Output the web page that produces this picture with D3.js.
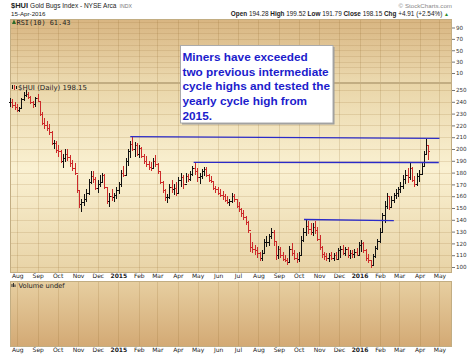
<!DOCTYPE html>
<html><head><meta charset="utf-8">
<script src="https://cdn.jsdelivr.net/npm/d3@7"></script>
<style>body{margin:0;background:#fff}svg{display:block}</style>
</head><body>
<svg id="c" width="474" height="356"></svg>
<script>
// ---- data: half-week OHLC bars [date, high, low, close] ----
const bars2014 = [
["2014-07-21",243,236,240],["2014-07-24",242,235,237],["2014-07-28",240,233,236],["2014-07-31",238,231,233],
["2014-08-04",236,231,235],["2014-08-07",243,234,242],["2014-08-11",248,241,246],["2014-08-14",250,244,247],
["2014-08-18",248,242,244],["2014-08-21",245,238,240],["2014-08-25",241,235,238],["2014-08-28",244,236,243],
["2014-09-01",247,240,241],["2014-09-04",241,228,230],["2014-09-08",231,220,222],["2014-09-11",226,217,220],
["2014-09-15",224,215,218],["2014-09-18",221,212,214],["2014-09-22",215,203,205],["2014-09-25",208,200,205],
["2014-09-29",207,197,199],["2014-10-02",203,193,198],["2014-10-06",199,188,190],["2014-10-09",196,184,192],
["2014-10-13",200,189,196],["2014-10-16",200,190,193],["2014-10-20",195,185,188],["2014-10-23",191,181,184],
["2014-10-27",188,178,180],["2014-10-30",178,163,165],["2014-11-03",165,150,153],["2014-11-06",158,147,155],
["2014-11-10",162,152,158],["2014-11-13",166,155,163],["2014-11-17",175,161,172],["2014-11-20",181,170,177],
["2014-11-24",181,171,175],["2014-11-27",176,165,167],["2014-12-01",174,163,170],["2014-12-04",178,168,172],
["2014-12-08",180,171,178],["2014-12-11",179,166,168],["2014-12-15",168,153,156],["2014-12-18",163,151,160],
["2014-12-22",166,156,159],["2014-12-25",163,155,161],["2014-12-29",168,158,165]
];
const bars2015 = [
["2015-01-02",172,162,170],["2015-01-05",182,168,180],["2015-01-08",186,176,178],["2015-01-12",192,178,190],
["2015-01-15",200,186,198],["2015-01-19",207,192,204],["2015-01-22",210.5,198,200],["2015-01-26",206,193,203],
["2015-01-29",205,194,196],["2015-02-02",203,192,201],["2015-02-05",202,192,194],["2015-02-09",196,187,190],
["2015-02-12",194,185,187],["2015-02-16",190,182,185],["2015-02-19",189,181,184],["2015-02-23",192,183,190],
["2015-02-26",195,185,187],["2015-03-02",188,179,181],["2015-03-05",181,170,172],["2015-03-09",173,163,165],
["2015-03-12",166,156,159],["2015-03-16",162,154,159],["2015-03-19",170,158,168],["2015-03-23",174,163,166],
["2015-03-26",170,161,167],["2015-03-30",172,160,163],["2015-04-02",176,163,174],["2015-04-06",180,168,176],
["2015-04-09",178,166,170],["2015-04-13",180,171,177],["2015-04-16",179,172,175],["2015-04-20",181,173,179],
["2015-04-23",186,177,184],["2015-04-27",188,178,181],["2015-04-30",184,172,176],["2015-05-04",180,170,177],
["2015-05-07",183,175,181],["2015-05-11",185,177,183],["2015-05-14",185,176,178],["2015-05-18",179,172,174],
["2015-05-21",177,171,173],["2015-05-25",172,165,167],["2015-05-28",169,163,166],["2015-06-01",168,161,163],
["2015-06-04",166,159,161],["2015-06-08",164,157,160],["2015-06-11",162,155,157],["2015-06-15",160,153,155],
["2015-06-18",158,152,156],["2015-06-22",163,154,160],["2015-06-25",162,155,158],["2015-06-29",158,150,152],
["2015-07-02",155,147,149],["2015-07-06",150,142,146],["2015-07-09",148,140,142],["2015-07-13",143,136,138],
["2015-07-16",139,129,131],["2015-07-20",129,113,117],["2015-07-23",121,112,115],["2015-07-27",119,110,114],
["2015-07-30",117,108,112],["2015-08-03",113,105,108],["2015-08-06",114,105,112],["2015-08-10",124,112,121],
["2015-08-13",126,117,121],["2015-08-17",128,118,126],["2015-08-20",133,124,130],["2015-08-24",131,118,122],
["2015-08-27",122,106,110],["2015-08-31",118,107,115],["2015-09-03",117,108,110],["2015-09-07",113,105,107],
["2015-09-10",110,104,106],["2015-09-14",108,102,104],["2015-09-17",118,104,115],["2015-09-21",120,109,112],
["2015-09-24",114,106,108],["2015-09-28",112,103,107],["2015-10-01",113,104,110],["2015-10-05",126,110,123],
["2015-10-08",133,121,130],["2015-10-12",140,126,135],["2015-10-15",139,128,132],["2015-10-19",137,127,130],
["2015-10-22",137,126,134],["2015-10-26",139,128,131],["2015-10-29",134,122,124],["2015-11-02",127,114,117],
["2015-11-05",118,108,111],["2015-11-09",113,106,109],["2015-11-12",112,105,108],["2015-11-16",112,104,110],
["2015-11-19",113,106,108],["2015-11-23",112,105,110],["2015-11-26",113,106,107],["2015-11-30",116,106,114],
["2015-12-03",118,108,115],["2015-12-07",119,110,112],["2015-12-10",117,109,115],["2015-12-14",117,108,110],
["2015-12-17",114,107,112],["2015-12-21",114,108,111],["2015-12-24",115,108,113],["2015-12-28",116,109,110],
["2015-12-31",121,110,119]
];
const bars2016 = [
["2016-01-04",123,113,120],["2016-01-07",121,112,114],["2016-01-11",115,105,108],["2016-01-14",111,103,106],
["2016-01-18",106,99.5,102],["2016-01-21",111,102,109],["2016-01-25",118,108,116],["2016-01-28",124,114,122],
["2016-02-01",133,120,130],["2016-02-04",146,130,144],["2016-02-08",156,137,152],["2016-02-11",163,149,160],
["2016-02-15",160,148,151],["2016-02-18",160,150,157],["2016-02-22",163,154,161],["2016-02-25",166,158,163],
["2016-02-29",168,159,166],["2016-03-03",172,163,169],["2016-03-07",178,166,175],["2016-03-10",182,170,178],
["2016-03-14",184,171,176],["2016-03-17",188,174,184],["2016-03-21",185,172,174],["2016-03-24",177,168,170],
["2016-03-28",180,169,177],["2016-03-31",182,172,179],["2016-04-04",188,178,186],["2016-04-07",198,186,196],
["2016-04-11",208.5,196,203],["2016-04-14",203,191,198.15]
];
const priceTicks = [100,110,120,130,140,150,160,170,180,190,200,210,220,230,240,250];
const rsiTicks = [90,70,50,30,10];
const rsiGrid = [10,20,30,40,50,60,70,80,90,100];
const levelStarts = ["2015-01-19","2015-04-25","2015-10-09"];
const levelEnds   = ["2016-05-01","2016-04-30","2016-02-22"];
const levelFrom   = [210.5,188.7,140.3];
const levelTo     = [209.0,188.5,139.3];
const noteLines = ["Miners have exceeded","two previous intermediate","cycle highs and tested the","yearly cycle high from","2015."];

// ---- layout ----
const svg = d3.select("#c");
const L = 10, R = 452;
const parse = d3.utcParse("%Y-%m-%d");
const x = d3.scaleUtc().domain([new Date(Date.UTC(2014,6,21)), new Date(Date.UTC(2016,4,20))]).range([L, R]);
const y = d3.scaleLinear().domain([100,250]).range([267,90]);
const yR = d3.scaleLinear().domain([10,90]).range([73,27.5]);
const months = d3.utcMonth.range(new Date(Date.UTC(2014,7,1)), new Date(Date.UTC(2016,4,2)));

const defs = svg.append("defs");
function grad(id, stops){
  const g = defs.append("linearGradient").attr("id",id).attr("x1",0).attr("x2",0).attr("y1",0).attr("y2",1);
  stops.forEach(s=>g.append("stop").attr("offset",s[0]).attr("stop-color",s[1]));
}
grad("gRsi",[[0,"#d8b581"],[1,"#ecdab0"]]);
grad("gMain",[[0,"#e9d5a8"],[0.45,"#faf1d2"],[1,"#e8d3a6"]]);
grad("gVol",[[0,"#e7cfa1"],[1,"#d3a974"]]);

const panels = [
  {y0:19, y1:83, fill:"url(#gRsi)"},
  {y0:83, y1:273, fill:"url(#gMain)"},
  {y0:281, y1:347, fill:"url(#gVol)"}
];
panels.forEach(p=>{
  svg.append("rect").attr("x",L).attr("y",p.y0).attr("width",R-L).attr("height",p.y1-p.y0).attr("fill",p.fill);
  svg.append("g").selectAll("line").data(months).join("line")
    .attr("x1",d=>Math.round(x(d))+0.5).attr("x2",d=>Math.round(x(d))+0.5)
    .attr("y1",p.y0).attr("y2",p.y1).attr("stroke","rgba(140,100,40,0.18)").attr("stroke-width",1);
});
// horizontal grids
svg.append("g").selectAll("line").data(priceTicks).join("line")
  .attr("x1",L).attr("x2",R).attr("y1",d=>Math.round(y(d))+0.5).attr("y2",d=>Math.round(y(d))+0.5)
  .attr("stroke","rgba(140,100,40,0.16)");
svg.append("g").selectAll("line").data(rsiGrid).join("line")
  .attr("x1",L).attr("x2",R).attr("y1",d=>Math.round(yR(d))+0.5).attr("y2",d=>Math.round(yR(d))+0.5)
  .attr("stroke","rgba(140,100,40,0.14)");
panels.forEach(p=>{
  svg.append("rect").attr("x",L+0.5).attr("y",p.y0+0.5).attr("width",R-L-1).attr("height",p.y1-p.y0-1)
    .attr("fill","none").attr("stroke","#c2ad82");
});

// ---- price bars ----
const bars = bars2014.concat(bars2015, bars2016).map(d=>({date:parse(d[0]),h:d[1],l:d[2],c:d[3]}));
const gb = svg.append("g").attr("shape-rendering","crispEdges");
bars.forEach((b,i)=>{
  const prev = i>0 ? bars[i-1].c : b.c;
  const col = b.c >= prev ? "#111" : "#cc2a2a";
  const xx = Math.round(x(b.date))+0.5;
  gb.append("line").attr("x1",xx).attr("x2",xx).attr("y1",y(b.h)).attr("y2",y(b.l)).attr("stroke",col).attr("stroke-width",1.2);
  gb.append("line").attr("x1",xx-1.5).attr("x2",xx).attr("y1",Math.round(y(prev))+0.5).attr("y2",Math.round(y(prev))+0.5).attr("stroke",col);
  gb.append("line").attr("x1",xx).attr("x2",xx+1.5).attr("y1",Math.round(y(b.c))+0.5).attr("y2",Math.round(y(b.c))+0.5).attr("stroke",col);
});

// ---- level lines ----
levelStarts.forEach((s,i)=>{
  svg.append("line").attr("x1",x(parse(s))).attr("x2",x(parse(levelEnds[i])))
    .attr("y1",y(levelFrom[i])).attr("y2",y(levelTo[i]))
    .attr("stroke","#2b2bc8").attr("stroke-width",1.4);
});

// ---- axes ----
const ya = svg.append("g").attr("transform",`translate(${R},0)`)
  .call(d3.axisRight(y).tickValues(priceTicks).tickSize(3).tickPadding(1));
ya.select(".domain").remove();
ya.selectAll("text").attr("font-size","5.6px").attr("font-family","DejaVu Sans").attr("fill","#333");
ya.selectAll(".tick line").attr("stroke","#777");
const yra = svg.append("g").attr("transform",`translate(${R},0)`)
  .call(d3.axisRight(yR).tickValues(rsiTicks).tickSize(3).tickPadding(1));
yra.select(".domain").remove();
yra.selectAll("text").attr("font-size","5.6px").attr("font-family","DejaVu Sans").attr("fill","#333");
yra.selectAll(".tick line").attr("stroke","#777");

const fmtMonth = d3.utcFormat("%b"), fmtYear = d3.utcFormat("%Y");
[273, 347].forEach(py=>{
  const xa = svg.append("g").attr("transform",`translate(0,${py})`)
    .call(d3.axisBottom(x).tickValues(months).tickSize(0).tickPadding(1.2)
      .tickFormat(d=>d.getUTCMonth()===0 ? fmtYear(d) : fmtMonth(d)));
  xa.select(".domain").remove();
  xa.selectAll("text").attr("font-size","6px").attr("font-family","DejaVu Sans").attr("fill","#222")
    .attr("font-weight",d=>d.getUTCMonth()===0?"bold":"normal");
});

// ---- header texts ----
const hdr = svg.append("text").attr("x",11).attr("y",8).attr("font-family","Liberation Sans, Arial").attr("fill","#222");
hdr.append("tspan").attr("font-weight","bold").attr("font-size","7.5px").text("$HUI");
hdr.append("tspan").attr("font-size","6.5px").attr("dx",2).text("Gold Bugs Index - NYSE Arca");
hdr.append("tspan").attr("font-size","5.2px").attr("fill","#777").attr("dx",3).text("INDX");
svg.append("text").attr("x",11).attr("y",16).attr("font-family","Liberation Sans, Arial").attr("font-size","6.2px").attr("fill","#222").text("15-Apr-2016");
svg.append("text").attr("x",452).attr("y",7.5).attr("text-anchor","end").attr("font-family","Liberation Sans, Arial").attr("font-size","6.2px").attr("fill","#888").text("© StockCharts.com");
const q = svg.append("text").attr("x",449).attr("y",16).attr("text-anchor","end").attr("font-family","Liberation Sans, Arial").attr("font-size","6.4px").attr("fill","#222");
[["Open",1],[" 194.28 ",0],["High",1],[" 199.52 ",0],["Low",1],[" 191.79 ",0],["Close",1],[" 198.15 ",0],["Chg",1],[" +4.91 (+2.54%) ",0]]
  .forEach(t=>q.append("tspan").attr("font-weight",t[1]?"bold":"normal").attr("xml:space","preserve").text(t[0]));
q.append("tspan").attr("fill","#2a8a2a").attr("font-size","5px").text("▲");

// panel labels
svg.append("path").attr("d","M12,24 L14,19.5 L16,24 Z").attr("fill","#2a6a2a");
svg.append("text").attr("x",16.5).attr("y",24.5).attr("font-family","DejaVu Sans Mono").attr("font-size","6.9px").attr("fill","#222").text("RSI(10) 61.43");
const ic = svg.append("g").attr("stroke","#111").attr("shape-rendering","crispEdges");
ic.append("line").attr("x1",12.5).attr("x2",12.5).attr("y1",84.5).attr("y2",89);
ic.append("line").attr("x1",14.5).attr("x2",14.5).attr("y1",85).attr("y2",89.5).attr("stroke","#cc2a2a");
ic.append("line").attr("x1",16.5).attr("x2",16.5).attr("y1",85.5).attr("y2",88.5);
svg.append("text").attr("x",18).attr("y",89.5).attr("font-family","DejaVu Sans").attr("font-size","7px").attr("fill","#222").text("$HUI (Daily) 198.15");
const vi = svg.append("g").attr("fill","#333");
vi.append("rect").attr("x",11.5).attr("y",284).attr("width",1).attr("height",3);
vi.append("rect").attr("x",13).attr("y",283).attr("width",1).attr("height",4);
vi.append("rect").attr("x",14.5).attr("y",284.5).attr("width",1).attr("height",2.5);
svg.append("text").attr("x",18.5).attr("y",287.5).attr("font-family","DejaVu Sans").attr("font-size","6.7px").attr("fill","#222").text("Volume undef");

// ---- annotation box ----
svg.append("rect").attr("x",182).attr("y",47).attr("width",152.5).attr("height",77.5).attr("fill","#9a9a9a");
svg.append("rect").attr("x",180.5).attr("y",45.5).attr("width",152.5).attr("height",77.5).attr("fill","#fff").attr("stroke","#aaa");
svg.append("g").selectAll("text").data(noteLines).join("text")
  .attr("x",182.5).attr("y",(d,i)=>60.7+i*14.85)
  .attr("font-family","Liberation Sans, Arial").attr("font-weight","bold").attr("font-size","11.8px")
  .attr("fill","#1c1ccc").text(d=>d);
</script>
</body></html>
